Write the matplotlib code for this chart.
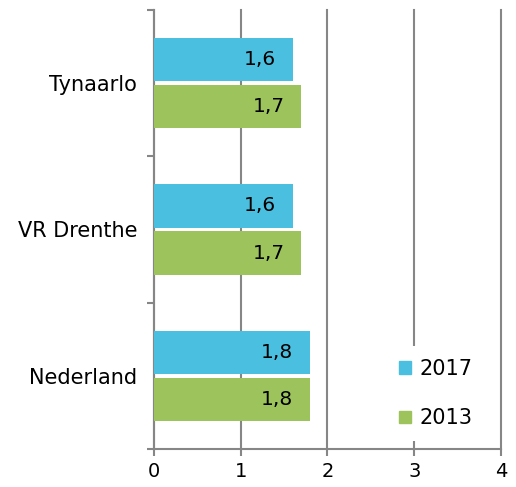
import numpy as np
import matplotlib.pyplot as plt
from matplotlib.patches import Patch

plt.rcParams['font.family'] = ['DejaVu Sans']

# regio's van onder naar boven
regions = ['Nederland', 'VR Drenthe', 'Tynaarlo']
years = ['2017', '2013']
values_2017 = [1.8, 1.6, 1.6]
values_2013 = [1.8, 1.7, 1.7]

blue = '#4bbfdf'
green = '#9dc45c'
grey = '#868686'

fig = plt.figure(figsize=(5.16, 4.87), dpi=100)
ax = fig.add_axes([0.2984, 0.078, 0.6725, 0.9015])

y = np.arange(len(regions))
h = 0.295
off = 0.161
bars17 = ax.barh(y + off, values_2017, height=h, color=blue, zorder=3)
bars13 = ax.barh(y - off, values_2013, height=h, color=green, zorder=3)

# waardelabels binnen de balk, komma als decimaalteken
for bars, vals in ((bars17, values_2017), (bars13, values_2013)):
    for b, v in zip(bars, vals):
        ax.annotate(f'{v:.1f}'.replace('.', ','),
                    (b.get_width(), b.get_y() + b.get_height() / 2),
                    xytext=(-12, 0), textcoords='offset points',
                    ha='right', va='center', fontsize=14.5, zorder=4)

ax.set_xlim(0, 4)
ax.set_ylim(-0.5, len(regions) - 0.5)
ax.set_xticks(range(5))
ax.tick_params(axis='x', labelsize=14, length=5, width=1.5, color=grey, pad=4)

# groepsgrenzen als major ticks, regionamen als minor ticks
ax.set_yticks(np.arange(-0.5, len(regions), 1.0))
ax.set_yticklabels([])
ax.set_yticks(y, minor=True)
ax.set_yticklabels(regions, minor=True, fontsize=15)
ax.tick_params(axis='y', which='major', length=5, width=1.5, color=grey)
ax.tick_params(axis='y', which='minor', length=0, pad=12)

for s in ('top', 'right'):
    ax.spines[s].set_visible(False)
for s in ('left', 'bottom'):
    ax.spines[s].set_color(grey)
    ax.spines[s].set_linewidth(1.5)

ax.xaxis.grid(True, color=grey, linewidth=1.5, zorder=0)
ax.set_axisbelow(True)
for line in ax.get_xgridlines():
    line.set_clip_on(False)

handles = [Patch(color=blue), Patch(color=green)]
leg = ax.legend(handles, years, loc='lower right', bbox_to_anchor=(0.983, -0.005),
                fontsize=15, frameon=True, edgecolor='none', facecolor='white',
                framealpha=1, handlelength=0.55, handleheight=0.55,
                handletextpad=0.4, labelspacing=1.42, borderpad=0.6)
leg.set_zorder(5)

fig.savefig('out.png', dpi=100)
